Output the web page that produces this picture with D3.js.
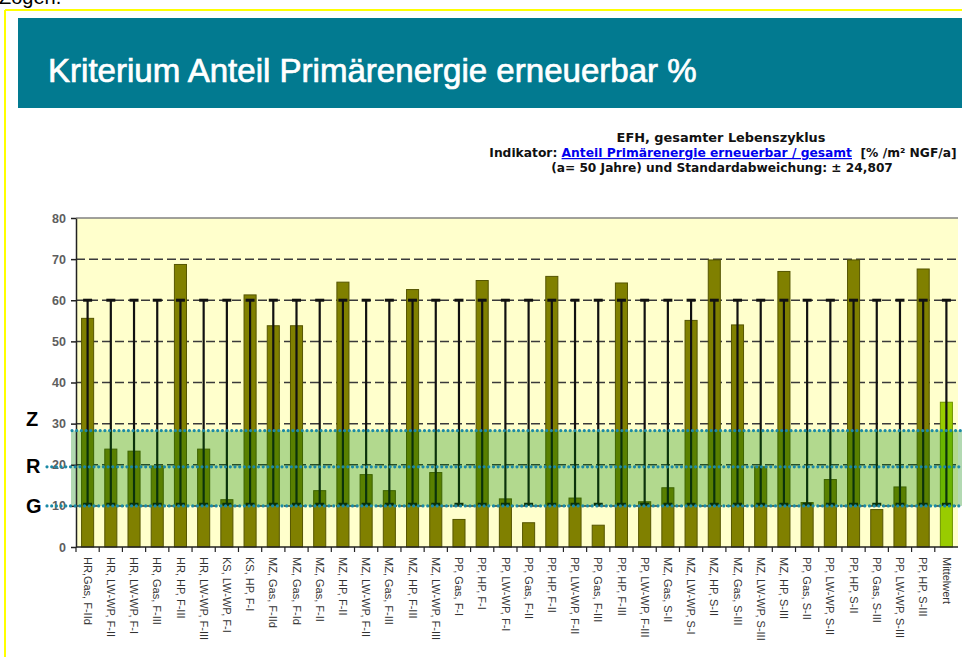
<!DOCTYPE html>
<html>
<head>
<meta charset="utf-8">
<script src="https://cdn.jsdelivr.net/npm/d3@7"></script>
<style>
    body { margin: 0; background: white; }
    svg { display: block; }
</style>
</head>
<body>
<svg id="chart" width="962" height="657"></svg>
<script>
let categories = [
    "HR,Gas, F-IId", "HR, LW-WP, F-II", "HR, LW-WP, F-I", "HR, Gas, F-III", "HR, HP, F-III",
    "HR, LW-WP, F-III", "KS, LW-WP, F-I", "KS, HP, F-I", "MZ, Gas, F-IId", "MZ, Gas, F-Id",
    "MZ, Gas, F-II", "MZ, HP, F-II", "MZ, LW-WP, F-II", "MZ, Gas, F-III", "MZ, HP, F-III",
    "MZ, LW-WP, F-III", "PP, Gas, F-I", "PP, HP, F-I", "PP, LW-WP, F-I", "PP, Gas, F-II",
    "PP, HP, F-II", "PP, LW-WP, F-II", "PP, Gas, F-III", "PP, HP, F-III", "PP, LW-WP, F-III",
    "MZ, Gas, S-II", "MZ, LW-WP, S-I", "MZ, HP, S-II", "MZ, Gas, S-III", "MZ, LW-WP, S-III",
    "MZ, HP, S-III", "PP, Gas, S-II", "PP, LW-WP, S-II", "PP, HP, S-II", "PP, Gas, S-III",
    "PP, LW-WP, S-III", "PP, HP, S-III", "Mittelwert"
];
let values = [
    55.6, 23.8, 23.3, 19.7, 68.7, 23.8, 11.5, 61.3, 53.8, 53.8,
    13.7, 64.4, 17.6, 13.7, 62.6, 18.1, 6.7, 64.8, 11.7, 5.9,
    65.8, 11.9, 5.3, 64.2, 11.0, 14.4, 55.1, 69.8, 54.0, 19.5,
    67.0, 10.8, 16.4, 69.8, 9.1, 14.6, 67.6, 35.2
];
let stdDev = 24.807;
let yTicks = [0, 10, 20, 30, 40, 50, 60, 70, 80];
let zoneLabels = ["Z", "R", "G"];
let zoneValues = [28.3, 19.5, 10.0];

let svg = d3.select("#chart");
let font = "'Liberation Sans', Arial, sans-serif";

let plotLeft = 76, plotRight = 958, plotTop = 218, plotBottom = 547;

let x = d3.scaleBand()
    .domain(categories)
    .range([plotLeft, plotRight])
    .paddingInner(0.48)
    .paddingOuter(0.24);
let y = d3.scaleLinear()
    .domain([0, 80])
    .range([plotBottom, plotTop]);

// scale font so a text fills a given width
function fitText(sel, width) {
    let len = sel.node().getComputedTextLength();
    let fs = parseFloat(sel.attr("font-size"));
    sel.attr("font-size", fs * width / len);
}

// page frame (the slide text above is cut off in the original too)
svg.append("text")
    .attr("x", -1)
    .attr("y", 4)
    .attr("font-family", font)
    .attr("font-size", 20)
    .attr("fill", "black")
    .text("Zogen.");
svg.append("line")
    .attr("x1", 5).attr("x2", 962)
    .attr("y1", 10).attr("y2", 10)
    .attr("stroke", "#ffff00")
    .attr("stroke-width", 2);
svg.append("line")
    .attr("x1", 5).attr("x2", 5)
    .attr("y1", 10).attr("y2", 657)
    .attr("stroke", "#ffff00")
    .attr("stroke-width", 2);

// header
svg.append("rect")
    .attr("x", 18)
    .attr("y", 18)
    .attr("width", 944)
    .attr("height", 90)
    .attr("fill", "#027a90");
let title = svg.append("text")
    .attr("x", 48)
    .attr("y", 82)
    .attr("font-family", font)
    .attr("font-size", 24)
    .attr("fill", "white")
    .attr("stroke", "white")
    .attr("stroke-width", 0.7)
    .text("Kriterium Anteil Primärenergie erneuerbar %");
fitText(title, 649);

// chart caption
let capFont = "'DejaVu Sans', Verdana, sans-serif";
let cap1 = svg.append("text")
    .attr("x", 721)
    .attr("y", 142)
    .attr("text-anchor", "middle")
    .attr("font-family", capFont)
    .attr("font-weight", "bold")
    .attr("font-size", 11)
    .attr("fill", "#111")
    .text("EFH, gesamter Lebenszyklus");
fitText(cap1, 209);
let cap2 = svg.append("text")
    .attr("x", 723)
    .attr("y", 157)
    .attr("text-anchor", "middle")
    .attr("font-family", capFont)
    .attr("font-weight", "bold")
    .attr("font-size", 11)
    .attr("fill", "#111");
cap2.append("tspan").text("Indikator: ");
cap2.append("tspan")
    .attr("fill", "#0000ee")
    .attr("text-decoration", "underline")
    .text("Anteil Primärenergie erneuerbar / gesamt");
cap2.append("tspan").attr("xml:space", "preserve").text("  [% /m² NGF/a]");
fitText(cap2, 468);
let cap3 = svg.append("text")
    .attr("x", 722)
    .attr("y", 172)
    .attr("text-anchor", "middle")
    .attr("font-family", capFont)
    .attr("font-weight", "bold")
    .attr("font-size", 11)
    .attr("fill", "#111")
    .text("(a= 50 Jahre) und Standardabweichung: ± 24,807");
fitText(cap3, 342);

// plot background
svg.append("rect")
    .attr("x", plotLeft)
    .attr("y", plotTop)
    .attr("width", plotRight - plotLeft)
    .attr("height", plotBottom - plotTop)
    .attr("fill", "#ffffcc");
svg.append("line")
    .attr("x1", plotLeft).attr("x2", plotRight)
    .attr("y1", plotTop).attr("y2", plotTop)
    .attr("stroke", "#808080")
    .attr("stroke-width", 1.5);

// dashed gridlines
svg.append("g")
    .selectAll("line")
    .data(yTicks.filter(t => t > 0 && t < 80))
    .join("line")
    .attr("x1", plotLeft)
    .attr("x2", plotRight)
    .attr("y1", d => y(d))
    .attr("y2", d => y(d))
    .attr("stroke", "#3a3a3a")
    .attr("stroke-width", 1.5)
    .attr("stroke-dasharray", "9,4");

// bars
let last = values.length - 1;
let mean = values[last];
svg.append("g")
    .selectAll("rect")
    .data(values)
    .join("rect")
    .attr("x", (d, i) => x(categories[i]))
    .attr("y", d => y(d))
    .attr("width", x.bandwidth())
    .attr("height", d => y(0) - y(d))
    .attr("fill", (d, i) => i === last ? "#99cc00" : "#808000")
    .attr("stroke", (d, i) => i === last ? "#6f9400" : "#555500")
    .attr("stroke-width", 1);

// error bars (mean +- standard deviation)
let errLow = mean - stdDev, errHigh = mean + stdDev;
let err = svg.append("g")
    .attr("stroke", "#111")
    .attr("stroke-width", 2.2);
categories.forEach((c) => {
    let cx = x(c) + x.bandwidth() / 2;
    err.append("line")
        .attr("x1", cx).attr("x2", cx)
        .attr("y1", y(errLow)).attr("y2", y(errHigh));
    err.append("line")
        .attr("x1", cx - 4.5).attr("x2", cx + 4.5)
        .attr("y1", y(errHigh)).attr("y2", y(errHigh))
        .attr("stroke-width", 3);
    err.append("line")
        .attr("x1", cx - 4.5).attr("x2", cx + 4.5)
        .attr("y1", y(errLow)).attr("y2", y(errLow))
        .attr("stroke-width", 3);
});

// green target band
svg.append("rect")
    .attr("x", 71)
    .attr("y", y(zoneValues[0]))
    .attr("width", 962 - 71)
    .attr("height", y(zoneValues[2]) - y(zoneValues[0]))
    .attr("fill", "rgb(0,128,0)")
    .attr("fill-opacity", 0.3);

// axes
let yAxis = svg.append("g")
    .attr("transform", `translate(${plotLeft},0)`)
    .call(d3.axisLeft(y).tickValues(yTicks).tickSize(5).tickSizeOuter(0));
yAxis.select(".domain").attr("stroke", "#222").attr("stroke-width", 1.5);
yAxis.selectAll(".tick line").attr("stroke", "#222").attr("stroke-width", 1.5);
yAxis.selectAll(".tick text")
    .attr("x", -10)
    .attr("font-family", font)
    .attr("font-size", 12.5)
    .attr("font-weight", "bold")
    .attr("fill", "#5e5e5e");

let xAxis = svg.append("g")
    .attr("transform", `translate(0,${plotBottom})`);
xAxis.append("line")
    .attr("x1", plotLeft).attr("x2", plotRight)
    .attr("y1", 0).attr("y2", 0)
    .attr("stroke", "#222")
    .attr("stroke-width", 1.5);
xAxis.selectAll(".tk")
    .data(categories)
    .join("line")
    .attr("class", "tk")
    .attr("x1", d => x(d) - x.step() * 0.24)
    .attr("x2", d => x(d) - x.step() * 0.24)
    .attr("y1", 0).attr("y2", 5)
    .attr("stroke", "#222")
    .attr("stroke-width", 1.2);
xAxis.selectAll(".lbl")
    .data(categories)
    .join("text")
    .attr("class", "lbl")
    .attr("transform", d => `translate(${x(d) + x.bandwidth() / 2},10) rotate(90)`)
    .attr("dy", "0.35em")
    .attr("font-family", font)
    .attr("font-size", 11)
    .attr("fill", "#333")
    .text(d => d);

// Z / R / G dotted lines
svg.append("g")
    .selectAll("line")
    .data(zoneValues)
    .join("line")
    .attr("x1", (d, i) => i === 0 ? 72 : 47)
    .attr("x2", 962)
    .attr("y1", d => y(d))
    .attr("y2", d => y(d))
    .attr("stroke", "#1b8aa6")
    .attr("stroke-width", 3.2)
    .attr("stroke-linecap", "round")
    .attr("stroke-dasharray", "0,4.7");
svg.append("g")
    .selectAll("text")
    .data(zoneLabels)
    .join("text")
    .attr("x", 26)
    .attr("y", (d, i) => y(zoneValues[i]) + [-5, 6, 7][i])
    .attr("font-family", font)
    .attr("font-weight", "bold")
    .attr("font-size", 20)
    .attr("fill", "black")
    .text(d => d);
</script>
</body>
</html>
